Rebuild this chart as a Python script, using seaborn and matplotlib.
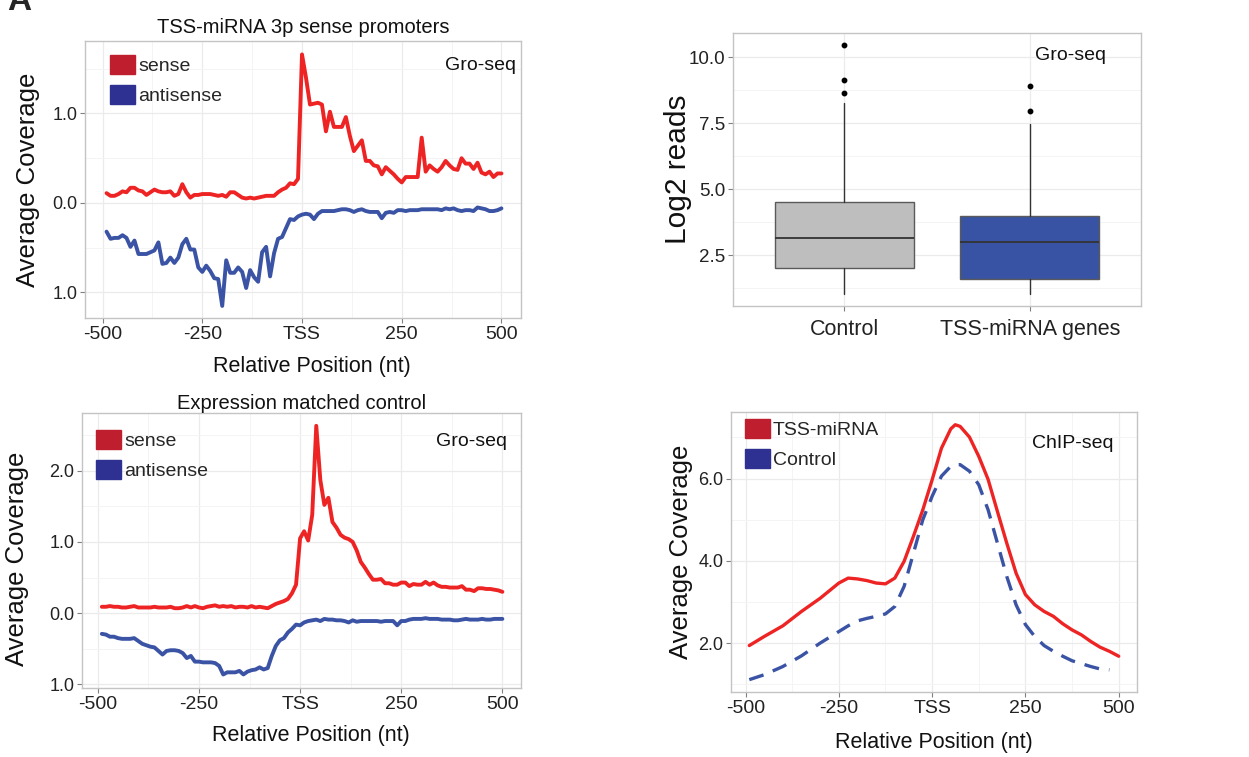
import numpy as np
import pandas as pd
import matplotlib
matplotlib.use("Agg")
import matplotlib.pyplot as plt
import seaborn as sns
from matplotlib.patches import Patch
from matplotlib.ticker import FuncFormatter

# positions (nt) of the Gro-seq bins
pos = list(range(-490, 510, 10))

# TSS-miRNA 3p sense promoters (antisense drawn below zero)
tl_sense = [0.11, 0.08, 0.08, 0.10, 0.13, 0.12, 0.17, 0.17, 0.14, 0.13,
            0.09, 0.12, 0.15, 0.13, 0.12, 0.12, 0.13, 0.08, 0.10, 0.21,
            0.12, 0.06, 0.09, 0.09, 0.10, 0.10, 0.10, 0.09, 0.08, 0.09,
            0.07, 0.12, 0.12, 0.09, 0.06, 0.05, 0.06, 0.05, 0.06, 0.07,
            0.08, 0.08, 0.08, 0.12, 0.15, 0.17, 0.22, 0.21, 0.27, 1.66,
            1.40, 1.10, 1.11, 1.12, 1.10, 0.80, 1.02, 0.85, 0.85, 0.85,
            0.96, 0.75, 0.58, 0.64, 0.70, 0.47, 0.47, 0.42, 0.41, 0.32,
            0.40, 0.36, 0.32, 0.27, 0.23, 0.29, 0.29, 0.29, 0.29, 0.73,
            0.35, 0.42, 0.38, 0.35, 0.40, 0.47, 0.42, 0.38, 0.37, 0.50,
            0.44, 0.44, 0.38, 0.45, 0.34, 0.32, 0.35, 0.29, 0.33, 0.33]
tl_anti = [-0.32, -0.40, -0.39, -0.39, -0.36, -0.39, -0.49, -0.42, -0.57, -0.57,
           -0.57, -0.55, -0.53, -0.44, -0.68, -0.67, -0.61, -0.67, -0.61, -0.46,
           -0.40, -0.52, -0.52, -0.72, -0.77, -0.70, -0.76, -0.84, -0.85, -1.15,
           -0.64, -0.78, -0.78, -0.72, -0.77, -0.95, -0.75, -0.83, -0.88, -0.55,
           -0.49, -0.82, -0.56, -0.40, -0.38, -0.28, -0.18, -0.19, -0.15, -0.13,
           -0.12, -0.13, -0.18, -0.12, -0.09, -0.09, -0.09, -0.09, -0.08, -0.07,
           -0.07, -0.08, -0.10, -0.08, -0.07, -0.09, -0.10, -0.10, -0.10, -0.17,
           -0.11, -0.10, -0.11, -0.08, -0.08, -0.09, -0.08, -0.08, -0.08, -0.07,
           -0.07, -0.07, -0.07, -0.07, -0.08, -0.06, -0.07, -0.06, -0.08, -0.09,
           -0.08, -0.08, -0.09, -0.05, -0.06, -0.07, -0.09, -0.09, -0.08, -0.06]

# Expression matched control
bl_sense = [0.09, 0.09, 0.10, 0.09, 0.09, 0.08, 0.08, 0.09, 0.10, 0.08,
            0.08, 0.08, 0.08, 0.09, 0.08, 0.08, 0.08, 0.09, 0.07, 0.07,
            0.08, 0.10, 0.08, 0.10, 0.08, 0.07, 0.09, 0.10, 0.11, 0.09,
            0.10, 0.09, 0.10, 0.08, 0.09, 0.09, 0.08, 0.10, 0.08, 0.09,
            0.08, 0.07, 0.10, 0.13, 0.15, 0.17, 0.20, 0.28, 0.40, 1.05,
            1.15, 1.02, 1.38, 2.63, 1.87, 1.52, 1.62, 1.28, 1.20, 1.10,
            1.06, 1.04, 1.00, 0.88, 0.72, 0.64, 0.55, 0.47, 0.47, 0.48,
            0.42, 0.42, 0.40, 0.40, 0.43, 0.43, 0.38, 0.41, 0.40, 0.40,
            0.44, 0.40, 0.43, 0.39, 0.37, 0.37, 0.36, 0.36, 0.36, 0.38,
            0.33, 0.33, 0.31, 0.35, 0.35, 0.34, 0.34, 0.33, 0.32, 0.30]
bl_anti = [-0.29, -0.30, -0.33, -0.33, -0.35, -0.36, -0.36, -0.36, -0.35, -0.39,
           -0.43, -0.45, -0.47, -0.48, -0.53, -0.58, -0.53, -0.52, -0.52, -0.53,
           -0.56, -0.63, -0.60, -0.68, -0.68, -0.69, -0.69, -0.69, -0.70, -0.74,
           -0.86, -0.83, -0.83, -0.83, -0.81, -0.86, -0.82, -0.80, -0.79, -0.76,
           -0.79, -0.77, -0.60, -0.46, -0.38, -0.35, -0.27, -0.22, -0.16, -0.17,
           -0.13, -0.11, -0.10, -0.09, -0.11, -0.08, -0.09, -0.09, -0.10, -0.10,
           -0.11, -0.13, -0.10, -0.12, -0.11, -0.11, -0.11, -0.11, -0.11, -0.12,
           -0.11, -0.11, -0.11, -0.17, -0.11, -0.11, -0.09, -0.08, -0.08, -0.08,
           -0.07, -0.08, -0.08, -0.08, -0.09, -0.09, -0.09, -0.10, -0.10, -0.09,
           -0.08, -0.09, -0.09, -0.09, -0.08, -0.09, -0.09, -0.08, -0.08, -0.08]

# ChIP-seq profiles
chip_pos = [-490, -450, -400, -350, -300, -250, -225, -200, -175, -150, -125, -100,
            -75, -50, -25, 0, 25, 50, 62, 75, 100, 125, 150, 175, 200, 225, 250,
            275, 300, 325, 350, 375, 400, 425, 450, 475, 500]
chip_tss = [1.94, 2.16, 2.42, 2.77, 3.09, 3.46, 3.58, 3.56, 3.52, 3.46, 3.44, 3.58,
            3.99, 4.60, 5.24, 5.97, 6.74, 7.21, 7.31, 7.27, 7.01, 6.54, 5.98, 5.20,
            4.43, 3.70, 3.18, 2.93, 2.77, 2.65, 2.47, 2.32, 2.20, 2.04, 1.90, 1.80, 1.68]
chip_ctrl = [1.11, 1.23, 1.43, 1.69, 2.00, 2.28, 2.42, 2.54, 2.60, 2.65, 2.71, 2.89,
             3.38, 4.19, 5.00, 5.57, 6.06, 6.30, 6.34, 6.34, 6.18, 5.85, 5.24, 4.43,
             3.62, 2.93, 2.45, 2.16, 1.94, 1.80, 1.68, 1.57, 1.50, 1.43, 1.37, 1.35, None]

# Gro-seq box summaries (log2 reads)
box_groups = ["Control", "TSS-miRNA genes"]
box_q1 = [2.00, 1.59]
box_med = [3.16, 3.00]
box_q3 = [4.52, 3.98]
box_lo = [1.02, 1.02]
box_hi = [8.27, 7.46]
box_out = [[8.63, 9.14, 10.47], [7.97, 8.91]]

xticks = [-500, -250, 0, 250, 500]
xticklabels = ["-500", "-250", "TSS", "250", "500"]

RED = "#EE2424"
BLUE = "#3A53A4"
RED_KEY = "#BE1E2D"
BLUE_KEY = "#2E3192"

sns.set_theme(style="whitegrid")
plt.rcParams["font.family"] = ["Liberation Sans", "DejaVu Sans"]
plt.rcParams["axes.edgecolor"] = "#C4C4C4"
plt.rcParams["axes.linewidth"] = 1.0

fig = plt.figure(figsize=(12.49, 7.57), dpi=100)
W, H = 1249, 757


def make_ax(x0, y0, x1, y1):
    return fig.add_axes([x0 / W, 1 - y1 / H, (x1 - x0) / W, (y1 - y0) / H])


def style(ax, yminor, xminor=(-375, -125, 125, 375)):
    ax.set_facecolor("white")
    for s in ax.spines.values():
        s.set_visible(True)
        s.set_color("#C4C4C4")
    ax.grid(True, which="major", color="#EBEBEB", lw=0.9)
    if xminor is not None:
        ax.set_xticks(list(xminor), minor=True)
    ax.set_yticks(list(yminor), minor=True)
    ax.grid(True, which="minor", color="#F4F4F4", lw=0.7)
    ax.tick_params(which="major", length=3.5, width=0.8, color="#808080",
                   labelcolor="#222222", pad=2, direction="out",
                   bottom=True, left=True)
    ax.tick_params(axis="x", labelsize=14)
    ax.tick_params(axis="y", labelsize=13)
    ax.tick_params(which="minor", length=0)
    ax.set_axisbelow(True)


def gro_panel(ax, sense, anti, title, ylim, xlim, yt, yminor, leg_anchor, txt_xy):
    sns.lineplot(x=pos, y=sense, ax=ax, color=RED, lw=2.8, estimator=None)
    sns.lineplot(x=pos, y=anti, ax=ax, color=BLUE, lw=2.8, estimator=None)
    ax.set_xlim(*xlim)
    ax.set_ylim(*ylim)
    ax.set_xticks(xticks)
    ax.set_xticklabels(xticklabels)
    ax.set_yticks(yt)
    ax.yaxis.set_major_formatter(FuncFormatter(lambda v, p: f"{abs(v):.1f}"))
    style(ax, yminor)
    ax.set_title(title, fontsize=14.5, color="#111111", pad=6)
    ax.set_xlabel("Relative Position (nt)", fontsize=15.5, color="#111111")
    ax.set_ylabel("Average Coverage", fontsize=18.5, color="#111111")
    handles = [Patch(color=RED_KEY, label="sense"), Patch(color=BLUE_KEY, label="antisense")]
    ax.legend(handles=handles, loc="upper left", bbox_to_anchor=leg_anchor, frameon=False,
              fontsize=14, handlelength=1.3, handleheight=1.15, handletextpad=0.15,
              labelspacing=0.5, borderpad=0, borderaxespad=0)
    ax.text(txt_xy[0], txt_xy[1], "Gro-seq", transform=ax.transAxes, ha="right",
            va="center", fontsize=14, color="#111111")


# top left
ax1 = make_ax(85, 41, 521, 318)
gro_panel(ax1, tl_sense, tl_anti, "TSS-miRNA 3p sense promoters", (-1.285, 1.81),
          (-544, 549), [-1, 0, 1], [-0.5, 0.5, 1.5], (0.057, 0.949), (0.989, 0.91))
ax1.xaxis.set_label_coords(0.52, -0.137)
ax1.yaxis.set_label_coords(-0.103, 0.5)

# bottom left
ax3 = make_ax(82, 413, 521, 688)
gro_panel(ax3, bl_sense, bl_anti, "Expression matched control", (-1.05, 2.81),
          (-539, 546), [-1, 0, 1, 2], [-0.5, 0.5, 1.5, 2.5], (0.032, 0.938), (0.968, 0.898))
ax3.set_title("Expression matched control", fontsize=14.5, color="#111111", pad=3)
ax3.xaxis.set_label_coords(0.522, -0.135)
ax3.yaxis.set_label_coords(-0.121, 0.47)

# top right boxplot
ax2 = make_ax(733, 33, 1141, 306)
stats = []
for i, g in enumerate(box_groups):
    stats.append(dict(label=g, q1=box_q1[i], med=box_med[i], q3=box_q3[i],
                      whislo=box_lo[i], whishi=box_hi[i], fliers=box_out[i]))
bp = ax2.bxp(stats, positions=[0, 1], widths=0.75, patch_artist=True, showcaps=False,
             boxprops=dict(edgecolor="#5A5A5A", lw=1.0),
             medianprops=dict(color="#333333", lw=1.3),
             whiskerprops=dict(color="#333333", lw=1.0),
             flierprops=dict(marker="o", markersize=3.2, markerfacecolor="black",
                             markeredgecolor="black"))
for patch, c in zip(bp["boxes"], ["#BEBEBE", "#3953A4"]):
    patch.set_facecolor(c)
ax2.set_xlim(-0.6, 1.6)
ax2.set_ylim(0.57, 10.91)
ax2.set_yticks([2.5, 5.0, 7.5, 10.0])
ax2.yaxis.set_major_formatter(FuncFormatter(lambda v, p: f"{v:.1f}"))
style(ax2, [1.25, 3.75, 6.25, 8.75], xminor=None)
ax2.set_xticks([0, 1])
ax2.set_xticklabels(box_groups)
ax2.tick_params(axis="x", labelsize=15.5, pad=6)
ax2.tick_params(axis="y", labelsize=13.5)
ax2.set_ylabel("Log2 reads", fontsize=21.5, color="#111111")
ax2.yaxis.set_label_coords(-0.100, 0.5)
ax2.text(0.914, 0.919, "Gro-seq", transform=ax2.transAxes, ha="right", va="center",
         fontsize=14, color="#111111")

# bottom right ChIP-seq
ax4 = make_ax(731, 412, 1137, 692)
chip = pd.DataFrame({"pos": chip_pos, "TSS-miRNA": chip_tss, "Control": chip_ctrl})
sns.lineplot(data=chip, x="pos", y="TSS-miRNA", ax=ax4, color=RED, lw=2.4, estimator=None)
sns.lineplot(data=chip.dropna(), x="pos", y="Control", ax=ax4, color=BLUE, lw=2.4,
             estimator=None, linestyle=(0, (4.5, 3)))
ax4.set_xlim(-539, 549)
ax4.set_ylim(0.81, 7.62)
ax4.set_xticks(xticks)
ax4.set_xticklabels(xticklabels)
ax4.set_yticks([2, 4, 6])
ax4.yaxis.set_major_formatter(FuncFormatter(lambda v, p: f"{v:.1f}"))
style(ax4, [1, 3, 5, 7])
ax4.set_xlabel("Relative Position (nt)", fontsize=15.5, color="#111111")
ax4.set_ylabel("Average Coverage", fontsize=18.5, color="#111111")
ax4.xaxis.set_label_coords(0.5, -0.143)
ax4.yaxis.set_label_coords(-0.094, 0.5)
handles = [Patch(color=RED_KEY, label="TSS-miRNA"), Patch(color=BLUE_KEY, label="Control")]
ax4.legend(handles=handles, loc="upper left", bbox_to_anchor=(0.034, 0.975), frameon=False,
           fontsize=14, handlelength=1.3, handleheight=1.15, handletextpad=0.15,
           labelspacing=0.5, borderpad=0, borderaxespad=0)
ax4.text(0.941, 0.886, "ChIP-seq", transform=ax4.transAxes, ha="right", va="center",
         fontsize=14, color="#111111")

fig.text(0.006, 1 - 10 / H, "A", fontsize=24, fontweight="bold", va="baseline", ha="left")

fig.savefig("out.png", dpi=100, facecolor="white")
